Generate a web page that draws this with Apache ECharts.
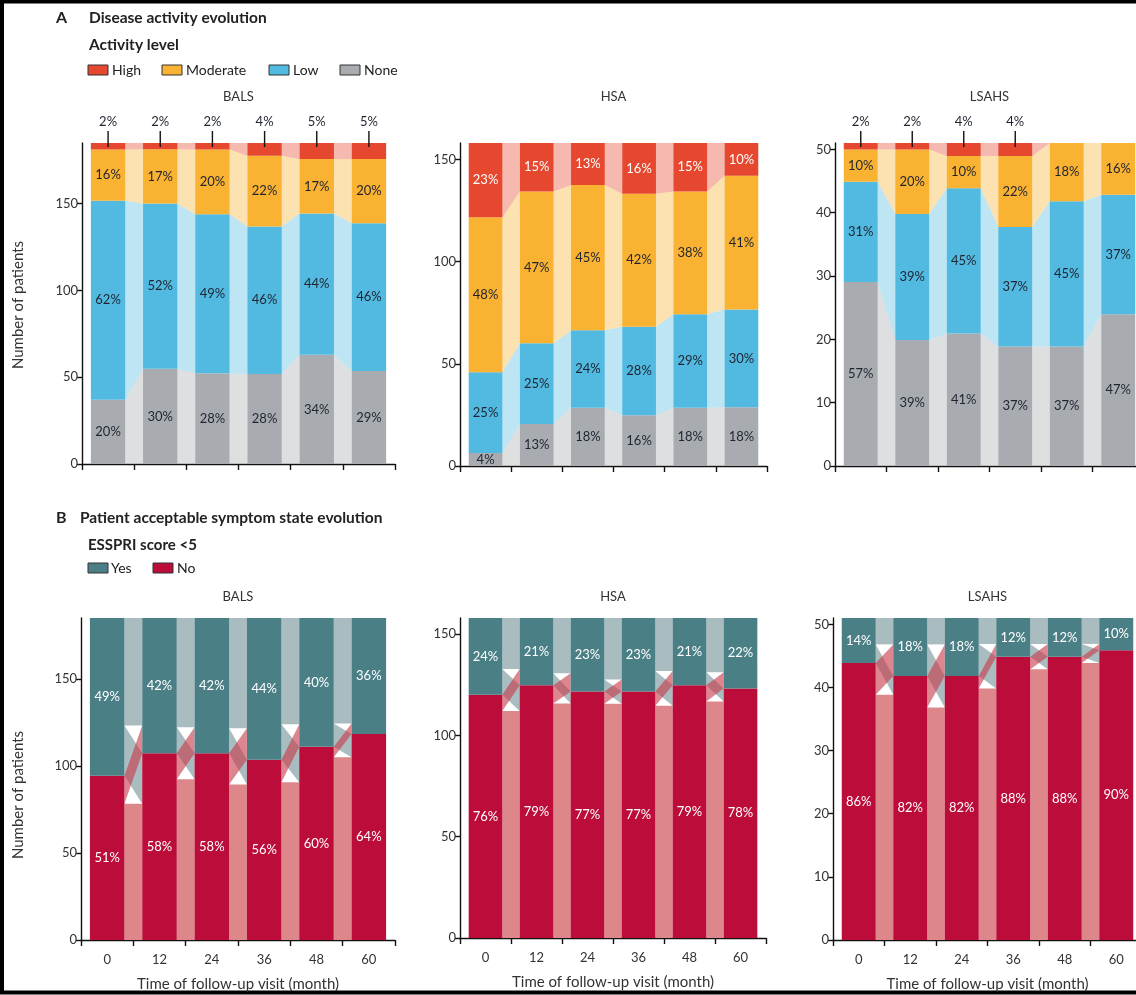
<!DOCTYPE html>
<html>
<head>
<meta charset="utf-8">
<title>Disease activity and PASS evolution</title>
<script src="https://cdn.jsdelivr.net/npm/echarts@6/dist/echarts.min.js"></script>
<style>
  html, body { margin: 0; padding: 0; background: #fff; }
  #chart { width: 1136px; height: 995px; }
</style>
</head>
<body>
<div id="chart"></div>
<script>
// ---------- data ----------
const months = ['0', '12', '24', '36', '48', '60'];
const cohortNames = ['BALS', 'HSA', 'LSAHS'];
const cohortSizes = [185, 158, 51];

// Disease activity level, % of patients at each visit
const balsHigh     = [2, 2, 2, 4, 5, 5];
const balsModerate = [16, 17, 20, 22, 17, 20];
const balsLow      = [62, 52, 49, 46, 44, 46];
const balsNone     = [20, 30, 28, 28, 34, 29];

const hsaHigh      = [23, 15, 13, 16, 15, 10];
const hsaModerate  = [48, 47, 45, 42, 38, 41];
const hsaLow       = [25, 25, 24, 28, 29, 30];
const hsaNone      = [4, 13, 18, 16, 18, 18];

const lsahsHigh     = [2, 2, 4, 4, 0, 0];
const lsahsModerate = [10, 20, 10, 22, 18, 16];
const lsahsLow      = [31, 39, 45, 37, 45, 37];
const lsahsNone     = [57, 39, 41, 37, 37, 47];

// ESSPRI score <5 (patient acceptable symptom state), % of patients
const balsYes  = [49, 42, 42, 44, 40, 36];
const balsNo   = [51, 58, 58, 56, 60, 64];
const hsaYes   = [24, 21, 23, 23, 21, 22];
const hsaNo    = [76, 79, 77, 77, 79, 78];
const lsahsYes = [14, 18, 18, 12, 12, 10];
const lsahsNo  = [86, 82, 82, 88, 88, 90];

// Patients moving from "No" to "Yes" between consecutive visits
const balsNoToYes  = [16, 15, 18, 13, 6];
const hsaNoToYes   = [8, 9, 6, 7, 8];
const lsahsNoToYes = [5, 5, 2, 2, 1];

// Axis ticks
const ticksLarge = [0, 50, 100, 150];
const ticksSmall = [0, 10, 20, 30, 40, 50];

// ---------- styling ----------
const FONT = 'Lato, "Noto Sans", sans-serif';
const BAR_RATIO = 0.66;
const levelNames = ['None', 'Low', 'Moderate', 'High']; // bottom to top
const levelColors = ['#A8ACB0', '#52BAE0', '#F9B232', '#E5482E'];
const levelLabelColors = ['#1f2430', '#1f2430', '#1f2430', '#ffffff'];
const yesColor = '#4A7F86';
const noColor = '#BC0C3A';
const paleYes = '#A9BCC0';
const paleNo = '#DE878B';
const crossNo = 'rgba(200, 60, 75, 0.62)';

const activityByCohort = [
  [balsNone, balsLow, balsModerate, balsHigh],
  [hsaNone, hsaLow, hsaModerate, hsaHigh],
  [lsahsNone, lsahsLow, lsahsModerate, lsahsHigh]
];
const passByCohort = [
  { yes: balsYes, no: balsNo, sw: balsNoToYes },
  { yes: hsaYes, no: hsaNo, sw: hsaNoToYes },
  { yes: lsahsYes, no: lsahsNo, sw: lsahsNoToYes }
];
const tickSets = [ticksLarge, ticksLarge, ticksSmall];
// High-activity labels sit above the bars where the slice is thin
const highAbove = [true, false, true];

const gridsA = [
  { left: 82, top: 143, width: 313, height: 321 },
  { left: 460, top: 143, width: 307, height: 323 },
  { left: 835, top: 143, width: 309, height: 323 }
];
const gridsB = [
  { left: 81, top: 618, width: 314, height: 322 },
  { left: 460, top: 618, width: 306, height: 320 },
  { left: 833, top: 618, width: 309, height: 322 }
];

// percentages -> patient counts, each visit stacking to the cohort size
function toCounts(levels, n) {
  const out = levels.map(() => []);
  for (let v = 0; v < months.length; v++) {
    const total = levels.reduce((s, a) => s + a[v], 0);
    levels.forEach((a, k) => { out[k][v] = n * a[v] / total; });
  }
  return out;
}

function hexAlpha(hex, a) {
  const r = parseInt(hex.slice(1, 3), 16), g = parseInt(hex.slice(3, 5), 16), b = parseInt(hex.slice(5, 7), 16);
  return 'rgba(' + r + ',' + g + ',' + b + ',' + a + ')';
}

function gapEdges(api, g) {
  const band = api.size([1, 0])[0];
  const half = band * BAR_RATIO / 2;
  return [api.coord([g, 0])[0] + half, api.coord([g + 1, 0])[0] - half];
}

function poly(pts, fill) {
  return { type: 'polygon', shape: { points: pts }, style: { fill: fill }, silent: true };
}

const grids = [];
const xAxes = [];
const yAxes = [];
const series = [];

function addAxes(gridSpec, idx, n, ticks, showX) {
  grids.push(Object.assign({ outerBoundsMode: 'none', containLabel: false }, gridSpec));
  xAxes.push({
    gridIndex: idx, type: 'category', data: months, boundaryGap: true,
    axisLine: { show: true, lineStyle: { color: '#111', width: 1.4 } },
    axisTick: { show: true, length: 6, interval: 0, lineStyle: { color: '#111', width: 1.4 } },
    axisLabel: { show: showX, fontSize: 13, color: '#333', margin: 13, fontFamily: FONT },
    name: showX ? 'Time of follow-up visit (month)' : '',
    nameLocation: 'middle', nameGap: 37,
    nameTextStyle: { fontSize: 15, color: '#333', fontFamily: FONT },
    splitLine: { show: false }
  });
  yAxes.push({
    gridIndex: idx, type: 'value', min: 0, max: n,
    axisLine: { show: true, lineStyle: { color: '#111', width: 1.4 } },
    axisTick: { show: true, length: 5, customValues: ticks, lineStyle: { color: '#111', width: 1.4 } },
    axisLabel: { customValues: ticks, fontSize: 13, color: '#333', margin: 4, fontFamily: FONT },
    splitLine: { show: false }
  });
}

// ---------- panel A: disease activity ----------
activityByCohort.forEach((levels, c) => {
  const idx = c;
  const n = cohortSizes[c];
  addAxes(gridsA[c], idx, n, tickSets[c], false);
  const counts = toCounts(levels, n);

  levels.forEach((pct, k) => {
    const hideInside = (k === 3 && highAbove[c]);
    series.push({
      type: 'bar', name: levelNames[k], xAxisIndex: idx, yAxisIndex: idx,
      stack: 'activity' + c, barWidth: (BAR_RATIO * 100) + '%',
      itemStyle: { color: levelColors[k] },
      data: counts[k],
      z: 3,
      label: {
        show: !hideInside, position: 'inside', fontSize: 13, fontFamily: FONT,
        color: levelLabelColors[k],
        formatter: p => pct[p.dataIndex] > 0 ? pct[p.dataIndex] + '%' : ''
      },
      emphasis: { disabled: true }
    });
  });

  // pale ribbons joining each level between consecutive visits
  series.push({
    type: 'custom', xAxisIndex: idx, yAxisIndex: idx, z: 1, silent: true,
    data: [0, 1, 2, 3, 4].map(g => [g, 0]),
    encode: { x: 0, y: 1 },
    renderItem: (params, api) => {
      const g = api.value(0);
      const [xl, xr] = gapEdges(api, g);
      const y = v => api.coord([g, v])[1];
      const children = [];
      let cl = 0, cr = 0;
      for (let k = 0; k < levels.length; k++) {
        const al = counts[k][g], ar = counts[k][g + 1];
        if (al > 0 || ar > 0) {
          children.push(poly([[xl, y(cl)], [xr, y(cr)], [xr, y(cr + ar)], [xl, y(cl + al)]],
            hexAlpha(levelColors[k], 0.38)));
        }
        cl += al; cr += ar;
      }
      return { type: 'group', children: children };
    }
  });

  if (highAbove[c]) {
    const high = levels[3];
    series.push({
      type: 'custom', xAxisIndex: idx, yAxisIndex: idx, z: 5, silent: true,
      data: high.map((p, v) => [v, n, p]).filter(d => d[2] > 0),
      encode: { x: 0, y: 1 },
      renderItem: (params, api) => {
        const pt = api.coord([api.value(0), api.value(1)]);
        return {
          type: 'group', children: [
            { type: 'line', shape: { x1: pt[0], y1: pt[1] + 4, x2: pt[0], y2: pt[1] - 12 },
              style: { stroke: '#111', lineWidth: 1.4 } },
            { type: 'text', x: pt[0], y: pt[1] - 21,
              style: { text: api.value(2) + '%', fill: '#1f2430', fontSize: 13, fontFamily: FONT,
                       align: 'center', verticalAlign: 'middle' } }
          ]
        };
      }
    });
  }
});

// ---------- panel B: patient acceptable symptom state ----------
passByCohort.forEach((d, c) => {
  const idx = 3 + c;
  const n = cohortSizes[c];
  addAxes(gridsB[c], idx, n, tickSets[c], true);
  const [noCounts, yesCounts] = toCounts([d.no, d.yes], n);

  [[noCounts, d.no, noColor, 'No'], [yesCounts, d.yes, yesColor, 'Yes']].forEach(([vals, pct, col, nm]) => {
    series.push({
      type: 'bar', name: nm, xAxisIndex: idx, yAxisIndex: idx,
      stack: 'pass' + c, barWidth: (BAR_RATIO * 100) + '%',
      itemStyle: { color: col }, data: vals, z: 3,
      label: {
        show: true, position: 'inside', fontSize: 13, fontFamily: FONT, color: '#ffffff',
        formatter: p => pct[p.dataIndex] + '%'
      },
      emphasis: { disabled: true }
    });
  });

  // stays, plus the two crossing ribbons of switching patients
  series.push({
    type: 'custom', xAxisIndex: idx, yAxisIndex: idx, z: 1, silent: true,
    data: [0, 1, 2, 3, 4].map(g => [g, 0]),
    encode: { x: 0, y: 1 },
    renderItem: (params, api) => {
      const g = api.value(0);
      const [xl, xr] = gapEdges(api, g);
      const y = v => api.coord([g, v])[1];
      const noL = noCounts[g], noR = noCounts[g + 1], s = d.sw[g];
      const lo = noL - s, hi = noR + s;
      return {
        type: 'group', children: [
          poly([[xl, y(0)], [xr, y(0)], [xr, y(lo)], [xl, y(lo)]], paleNo),
          poly([[xl, y(hi)], [xr, y(hi)], [xr, y(n)], [xl, y(n)]], paleYes),
          poly([[xl, y(noL)], [xr, y(lo)], [xr, y(noR)], [xl, y(hi)]], paleYes),
          poly([[xl, y(lo)], [xr, y(noR)], [xr, y(hi)], [xl, y(noL)]], crossNo)
        ]
      };
    }
  });
});

// ---------- headings, legends, frame ----------
const txt = (x, y, text, opt) => Object.assign({
  type: 'text', x: x, y: y, silent: true,
  style: Object.assign({ text: text, fontFamily: FONT, fontSize: 14, fill: '#222',
                         align: 'left', verticalAlign: 'middle' }, (opt && opt.style) || {})
}, opt && opt.rotation !== undefined ? { rotation: opt.rotation } : {});

const swatch = (x, y, fill) => ({
  type: 'rect', silent: true, shape: { x: x, y: y - 5, width: 20, height: 10 },
  style: { fill: fill, stroke: '#333', lineWidth: 1 }
});

const graphics = [
  { type: 'rect', silent: true, shape: { x: 2, y: 1.5, width: 1160, height: 991 },
    style: { fill: 'none', stroke: '#000', lineWidth: 4 } },
  txt(56, 18, 'A', { style: { fontWeight: 'bold', fontSize: 16 } }),
  txt(89, 18, 'Disease activity evolution', { style: { fontWeight: 'bold', fontSize: 15.5 } }),
  txt(89, 45, 'Activity level', { style: { fontWeight: 'bold', fontSize: 15.5 } }),
  swatch(88, 70, levelColors[3]), txt(112, 70, 'High'),
  swatch(162, 70, levelColors[2]), txt(186, 70, 'Moderate'),
  swatch(269, 70, levelColors[1]), txt(293, 70, 'Low'),
  swatch(340, 70, levelColors[0]), txt(364, 70, 'None'),

  txt(56, 518, 'B', { style: { fontWeight: 'bold', fontSize: 16 } }),
  txt(80, 518, 'Patient acceptable symptom state evolution', { style: { fontWeight: 'bold', fontSize: 15.5 } }),
  txt(88, 545, 'ESSPRI score <5', { style: { fontWeight: 'bold', fontSize: 15 } }),
  swatch(88, 568, yesColor), txt(111, 568, 'Yes'),
  swatch(153, 568, noColor), txt(177, 568, 'No'),

  txt(18, 305, 'Number of patients', { rotation: Math.PI / 2, style: { align: 'center', fontSize: 15, fill: '#333' } }),
  txt(18, 795, 'Number of patients', { rotation: Math.PI / 2, style: { align: 'center', fontSize: 15, fill: '#333' } })
];
cohortNames.forEach((name, c) => {
  graphics.push(txt(gridsA[c].left + gridsA[c].width / 2, 97, name, { style: { align: 'center', fontSize: 13, fill: '#333' } }));
  graphics.push(txt(gridsB[c].left + gridsB[c].width / 2, 597, name, { style: { align: 'center', fontSize: 13, fill: '#333' } }));
});

const chart = echarts.init(document.getElementById('chart'), null, { renderer: 'canvas' });
chart.setOption({
  animation: false,
  backgroundColor: '#ffffff',
  textStyle: { fontFamily: FONT },
  grid: grids,
  xAxis: xAxes,
  yAxis: yAxes,
  series: series,
  graphic: graphics
});
</script>
</body>
</html>
